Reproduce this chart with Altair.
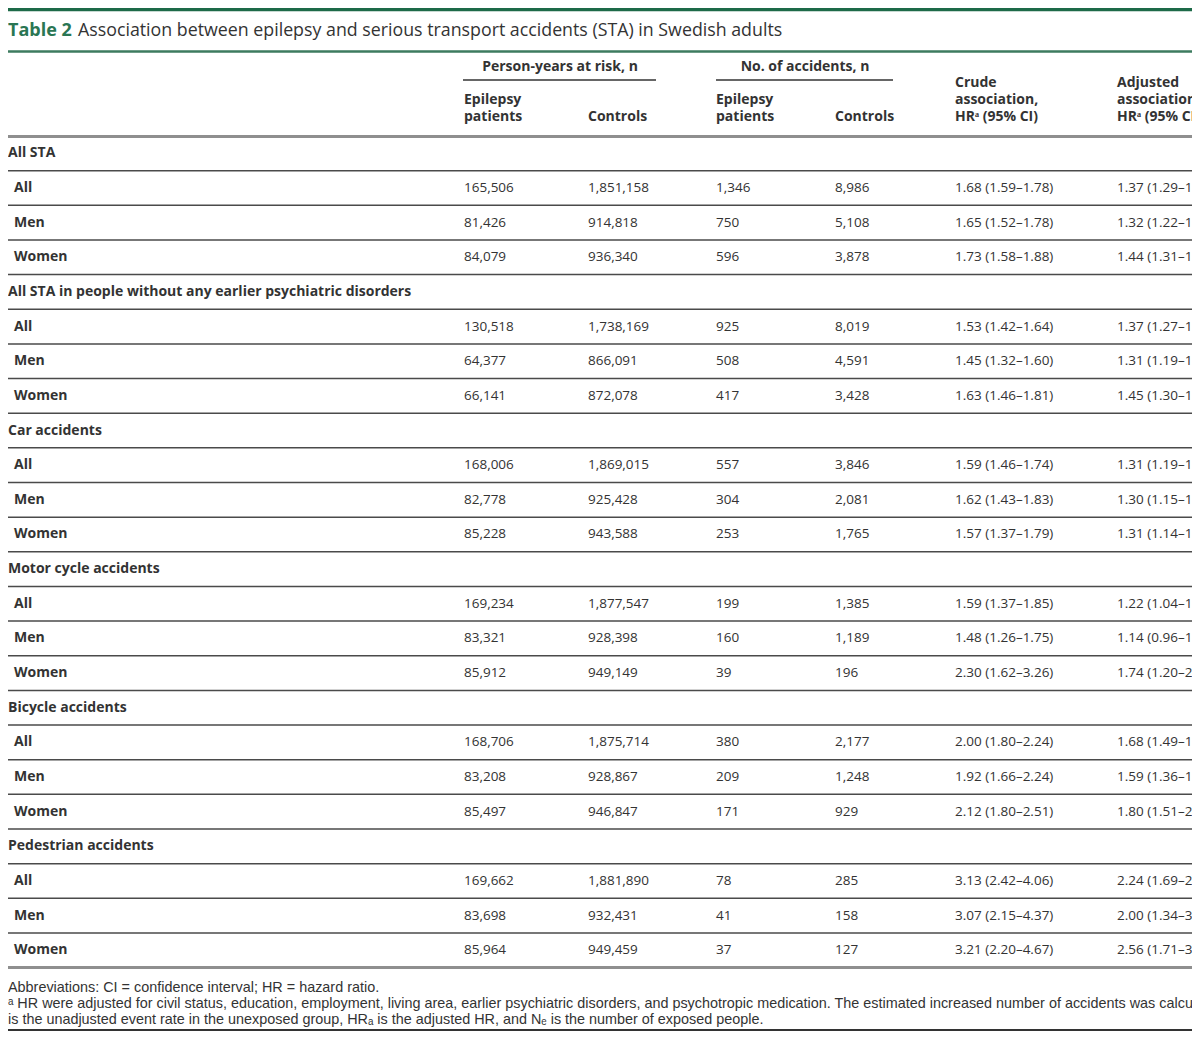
import altair as alt
import pandas as pd

# ---------------- data ----------------
title_bold = "Table 2"
title_rest = "Association between epilepsy and serious transport accidents (STA) in Swedish adults"

group_headers = ["Person-years at risk, n", "No. of accidents, n"]
col_headers = [
    ["", "Epilepsy", "patients"],
    ["", "", "Controls"],
    ["", "Epilepsy", "patients"],
    ["", "", "Controls"],
    ["Crude", "association,", "HRᵃ (95% CI)"],
    ["Adjusted", "association,", "HRᵃ (95% CI)"],
]

sections = [
    "All STA",
    "All STA in people without any earlier psychiatric disorders",
    "Car accidents",
    "Motor cycle accidents",
    "Bicycle accidents",
    "Pedestrian accidents",
]
groups = ["All", "Men", "Women"]

py_epilepsy = [
    ["165,506", "81,426", "84,079"],
    ["130,518", "64,377", "66,141"],
    ["168,006", "82,778", "85,228"],
    ["169,234", "83,321", "85,912"],
    ["168,706", "83,208", "85,497"],
    ["169,662", "83,698", "85,964"],
]
py_controls = [
    ["1,851,158", "914,818", "936,340"],
    ["1,738,169", "866,091", "872,078"],
    ["1,869,015", "925,428", "943,588"],
    ["1,877,547", "928,398", "949,149"],
    ["1,875,714", "928,867", "946,847"],
    ["1,881,890", "932,431", "949,459"],
]
acc_epilepsy = [
    ["1,346", "750", "596"],
    ["925", "508", "417"],
    ["557", "304", "253"],
    ["199", "160", "39"],
    ["380", "209", "171"],
    ["78", "41", "37"],
]
acc_controls = [
    ["8,986", "5,108", "3,878"],
    ["8,019", "4,591", "3,428"],
    ["3,846", "2,081", "1,765"],
    ["1,385", "1,189", "196"],
    ["2,177", "1,248", "929"],
    ["285", "158", "127"],
]
crude_hr = [
    ["1.68 (1.59–1.78)", "1.65 (1.52–1.78)", "1.73 (1.58–1.88)"],
    ["1.53 (1.42–1.64)", "1.45 (1.32–1.60)", "1.63 (1.46–1.81)"],
    ["1.59 (1.46–1.74)", "1.62 (1.43–1.83)", "1.57 (1.37–1.79)"],
    ["1.59 (1.37–1.85)", "1.48 (1.26–1.75)", "2.30 (1.62–3.26)"],
    ["2.00 (1.80–2.24)", "1.92 (1.66–2.24)", "2.12 (1.80–2.51)"],
    ["3.13 (2.42–4.06)", "3.07 (2.15–4.37)", "3.21 (2.20–4.67)"],
]
# right-most column is cut off in the reference; only the visible part is kept
adjusted_hr = [
    ["1.37 (1.29–1.4", "1.32 (1.22–1.4", "1.44 (1.31–1.5"],
    ["1.37 (1.27–1.4", "1.31 (1.19–1.4", "1.45 (1.30–1.6"],
    ["1.31 (1.19–1.4", "1.30 (1.15–1.4", "1.31 (1.14–1.5"],
    ["1.22 (1.04–1.4", "1.14 (0.96–1.3", "1.74 (1.20–2.5"],
    ["1.68 (1.49–1.8", "1.59 (1.36–1.8", "1.80 (1.51–2.1"],
    ["2.24 (1.69–2.9", "2.00 (1.34–3.0", "2.56 (1.71–3.8"],
]

footnotes = [
    "Abbreviations: CI = confidence interval; HR = hazard ratio.",
    "ᵃ HR were adjusted for civil status, education, employment, living area, earlier psychiatric disorders, and psychotropic medication. The estimated increased number of accidents was calculate",
    "is the unadjusted event rate in the unexposed group, HRₐ is the adjusted HR, and Nₑ is the number of exposed people.",
]

# ---------------- layout (reference pixel coords -> chart coords) ----------------
OFF = 8
W, H = 1184, 1024
FONT = "Open Sans"
TXT = "#333333"
GREEN = "#2a7653"


def cx(v):
    return max(v - OFF, 0)


def cy(v):
    return min(max(v - OFF, 0), H - 2)


col_x = [464, 588, 716, 835, 955, 1117]
group_center = [560, 805]
underline = [(463, 656), (716, 893)]
header_rows_y = [83, 100, 117]
table_top = 136.0
row_h = 34.65

# text tables
sec_rows, lab_rows, cell_rows = [], [], []
k = 0
for s, sec in enumerate(sections):
    yc = table_top + row_h * k + row_h / 2
    sec_rows.append({"x": cx(1), "y": cy(yc), "t": sec})
    k += 1
    for g, grp in enumerate(groups):
        yc = table_top + row_h * k + row_h / 2
        lab_rows.append({"x": cx(14), "y": cy(yc), "t": grp})
        vals = [py_epilepsy[s][g], py_controls[s][g], acc_epilepsy[s][g],
                acc_controls[s][g], crude_hr[s][g], adjusted_hr[s][g]]
        for c, v in enumerate(vals):
            cell_rows.append({"x": cx(col_x[c]), "y": cy(yc), "t": v})
        k += 1
n_rows = k

head_rows = []
for c, lines in enumerate(col_headers):
    for li, t in enumerate(lines):
        if t:
            head_rows.append({"x": cx(col_x[c]), "y": cy(header_rows_y[li]), "t": t})
grp_rows = [{"x": cx(group_center[i]), "y": cy(67), "t": t} for i, t in enumerate(group_headers)]
foot_rows = [{"x": cx(0), "y": cy(yy), "t": t} for yy, t in zip([988, 1004, 1020], footnotes)]

# rules
rules = []
rules.append({"x": 0, "x2": W, "y": 1.5, "c": "#1d6a48", "w": 3.5})  # top bar
rules.append({"x": 0, "x2": W, "y": cy(51.5), "c": "#3d7b5f", "w": 2.5})  # under title
for a, b in underline:
    rules.append({"x": cx(a), "x2": cx(b), "y": cy(80), "c": "#333333", "w": 1.5})
rules.append({"x": 0, "x2": W, "y": cy(table_top + 0.5), "c": "#8f8f8f", "w": 3})
for i in range(1, n_rows + 1):
    yy = table_top + row_h * i
    if i == n_rows:
        rules.append({"x": 0, "x2": W, "y": cy(yy), "c": "#8f8f8f", "w": 3})
    else:
        rules.append({"x": 0, "x2": W, "y": cy(yy), "c": "#4a4a4a", "w": 1.5})
rules.append({"x": 0, "x2": W, "y": cy(1043), "c": "#333333", "w": 2})

xs = alt.Scale(domain=[0, W], nice=False, zero=False)
ys = alt.Scale(domain=[0, H], nice=False, zero=False, reverse=True)


def text_layer(rows, size, weight="normal", align="left", color=TXT, font=FONT, clip=True):
    return alt.Chart(pd.DataFrame(rows)).mark_text(
        align=align, baseline="middle", fontSize=size, fontWeight=weight,
        color=color, font=font, clip=clip
    ).encode(
        x=alt.X("x:Q", scale=xs, axis=None),
        y=alt.Y("y:Q", scale=ys, axis=None),
        text="t:N",
    )


rule_layer = alt.Chart(pd.DataFrame(rules)).mark_rule(clip=True).encode(
    x=alt.X("x:Q", scale=xs, axis=None),
    x2="x2:Q",
    y=alt.Y("y:Q", scale=ys, axis=None),
    color=alt.Color("c:N", scale=None),
    strokeWidth=alt.StrokeWidth("w:Q", scale=None),
)

title_l1 = text_layer([{"x": cx(1), "y": cy(31), "t": title_bold}], 18, "bold", color=GREEN)
title_l2 = text_layer([{"x": cx(78), "y": cy(31), "t": title_rest}], 17.8, "normal")

chart = alt.layer(
    rule_layer,
    title_l1,
    title_l2,
    text_layer(grp_rows, 14, "bold", align="center"),
    text_layer(head_rows, 14, "bold"),
    text_layer(sec_rows, 14, "bold"),
    text_layer(lab_rows, 14, "bold"),
    text_layer(cell_rows, 13.5, "normal"),
    text_layer(foot_rows, 14.4, "normal", font="Liberation Sans", clip=True),
).properties(
    width=W, height=H, padding=0, autosize=alt.AutoSizeParams(type="none")
).configure_view(stroke=None)

chart.save("out.html", embed_options={"renderer": "svg", "actions": False})
